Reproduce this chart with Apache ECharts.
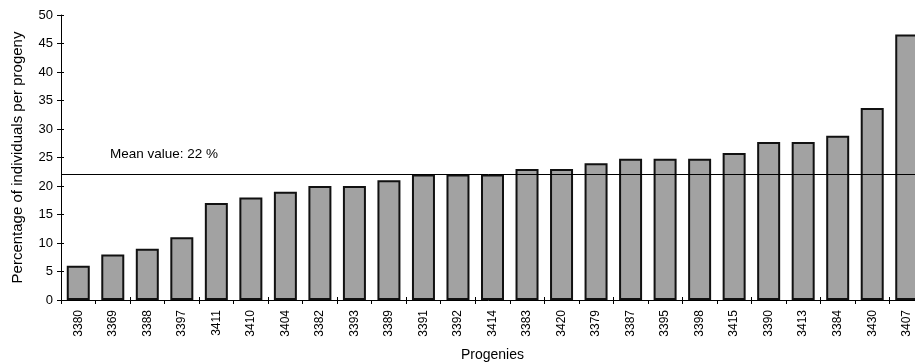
<!DOCTYPE html>
<html><head><meta charset="utf-8">
<script src="https://cdn.jsdelivr.net/npm/echarts@6/dist/echarts.min.js"></script>
<style>html,body{margin:0;padding:0;background:#fff}#c{width:915px;height:364px}</style>
</head><body><div id="c"></div>
<script>
const categories = ['3380','3369','3388','3397','3411','3410','3404','3382','3393','3389','3391','3392','3414','3383','3420','3379','3387','3395','3398','3415','3390','3413','3384','3430','3407'];
const values = [6, 8, 9, 11, 17, 18, 19, 20, 20, 21, 22, 22, 22, 23, 23, 24, 24.8, 24.8, 24.8, 25.8, 27.7, 27.7, 28.8, 33.7, 46.6];
const meanValue = 22;
const meanLabel = 'Mean value: 22 %';
const yTicks = {min: 0, max: 50, interval: 5};

const font = 'Liberation Sans, Arial, Helvetica, sans-serif';
const chart = echarts.init(document.getElementById('c'));
chart.setOption({
  animation: false,
  backgroundColor: '#fff',
  grid: {left: 61, right: -9, top: 15, bottom: 64, containLabel: false, outerBoundsMode: 'none'},
  xAxis: [{
    type: 'category', data: categories,
    name: 'Progenies', nameLocation: 'middle', nameGap: 48,
    nameTextStyle: {fontFamily: font, fontSize: 14, color: '#000'},
    axisLine: {lineStyle: {color: '#000', width: 1}},
    axisTick: {show: true, length: 4, lineStyle: {color: '#000'}},
    axisLabel: {rotate: 90, fontFamily: font, fontSize: 12, color: '#000', margin: 10, interval: 0},
    splitLine: {show: false}
  }, {
    type: 'category', data: categories, position: 'bottom',
    axisLine: {show: false},
    axisTick: {show: true, inside: true, length: 3, lineStyle: {color: '#000'}},
    axisLabel: {show: false}, splitLine: {show: false}
  }],
  yAxis: [{
    type: 'value', min: yTicks.min, max: yTicks.max, interval: yTicks.interval,
    name: 'Percentage of individuals per progeny', nameLocation: 'middle', nameGap: 36,
    nameTextStyle: {fontFamily: font, fontSize: 15, color: '#000'},
    axisLine: {show: true, lineStyle: {color: '#000', width: 1}},
    axisTick: {show: true, length: 4, lineStyle: {color: '#000'}},
    axisLabel: {fontFamily: font, fontSize: 13, color: '#000', margin: 8},
    splitLine: {show: false}
  }, {
    type: 'value', min: yTicks.min, max: yTicks.max, interval: yTicks.interval, position: 'left',
    axisLine: {show: false},
    axisTick: {show: true, inside: true, length: 3, lineStyle: {color: '#000'}},
    axisLabel: {show: false}, splitLine: {show: false}
  }],
  series: [{
    type: 'bar', data: values, barWidth: 23,
    itemStyle: {color: '#a2a2a2', borderColor: '#111', borderWidth: 2},
    markLine: {
      silent: true, symbol: 'none', z: 10,
      lineStyle: {color: '#000', width: 1, type: 'solid'},
      label: {show: true, position: 'insideStartTop', formatter: meanLabel, fontFamily: font, fontSize: 13.5, color: '#000', distance: [49, 13]},
      data: [{yAxis: meanValue}]
    }
  }]
});
</script></body></html>
